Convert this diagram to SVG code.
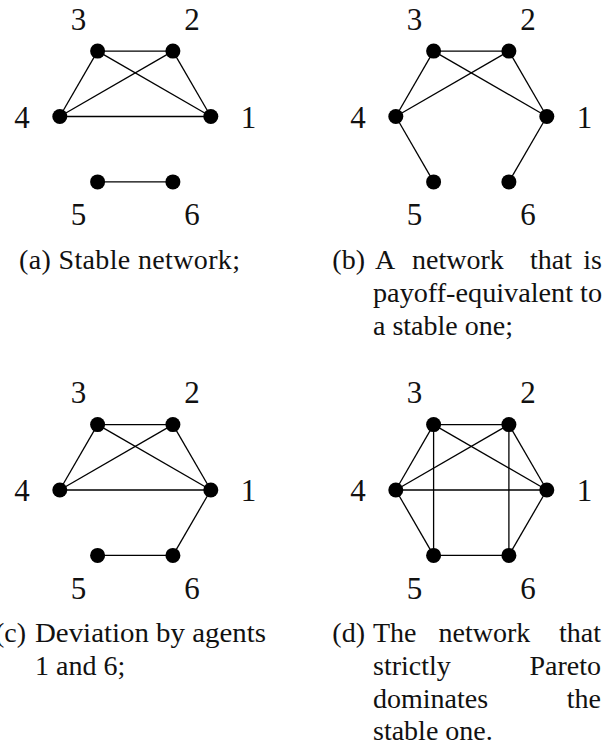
<svg xmlns="http://www.w3.org/2000/svg" width="605" height="746" viewBox="0 0 605 746">
<style>
.e{stroke:#000;stroke-width:1.3;fill:none}
.dot{fill:#000}
.lb{font-family:'Liberation Serif','DejaVu Serif','Noto Serif',serif;font-size:31px;fill:#111;text-anchor:middle}
.cap{font-family:'Liberation Serif','DejaVu Serif','Noto Serif',serif;font-size:28px;fill:#111}
.m{text-anchor:middle}
.r{text-anchor:end}
</style>
<rect width="605" height="746" fill="#fff"/>

<!-- Panel (a) -->
<g id="conn-a">
<line class="e" x1="97.6" y1="51.1" x2="172.9" y2="51.1"/>
<line class="e" x1="97.6" y1="51.1" x2="59.8" y2="116.5"/>
<line class="e" x1="97.6" y1="51.1" x2="210.8" y2="116.5"/>
<line class="e" x1="172.9" y1="51.1" x2="59.8" y2="116.5"/>
<line class="e" x1="172.9" y1="51.1" x2="210.8" y2="116.5"/>
<line class="e" x1="59.8" y1="116.5" x2="210.8" y2="116.5"/>
<line class="e" x1="97.6" y1="181.9" x2="172.9" y2="181.9"/>
</g>
<g id="a1"><circle class="dot" cx="210.8" cy="116.5" r="7.5"/><text class="lb" x="248.5" y="127.5">1</text></g>
<g id="a2"><circle class="dot" cx="172.9" cy="51.1" r="7.5"/><text class="lb" x="192" y="29.5">2</text></g>
<g id="a3"><circle class="dot" cx="97.6" cy="51.1" r="7.5"/><text class="lb" x="78.5" y="29.5">3</text></g>
<g id="a4"><circle class="dot" cx="59.8" cy="116.5" r="7.5"/><text class="lb" x="22" y="127.5">4</text></g>
<g id="a5"><circle class="dot" cx="97.6" cy="181.9" r="7.5"/><text class="lb" x="78.5" y="225">5</text></g>
<g id="a6"><circle class="dot" cx="172.9" cy="181.9" r="7.5"/><text class="lb" x="192" y="225">6</text></g>
<g id="cap-a"><text class="cap" x="19" y="269" textLength="221" lengthAdjust="spacing">(a) Stable network;</text></g>

<!-- Panel (b) -->
<g id="conn-b">
<line class="e" x1="433.6" y1="51.1" x2="508.9" y2="51.1"/>
<line class="e" x1="433.6" y1="51.1" x2="395.8" y2="116.5"/>
<line class="e" x1="433.6" y1="51.1" x2="546.8" y2="116.5"/>
<line class="e" x1="508.9" y1="51.1" x2="395.8" y2="116.5"/>
<line class="e" x1="508.9" y1="51.1" x2="546.8" y2="116.5"/>
<line class="e" x1="395.8" y1="116.5" x2="433.6" y2="181.9"/>
<line class="e" x1="546.8" y1="116.5" x2="508.9" y2="181.9"/>
</g>
<g id="b1"><circle class="dot" cx="546.8" cy="116.5" r="7.5"/><text class="lb" x="584.5" y="127.5">1</text></g>
<g id="b2"><circle class="dot" cx="508.9" cy="51.1" r="7.5"/><text class="lb" x="528" y="29.5">2</text></g>
<g id="b3"><circle class="dot" cx="433.6" cy="51.1" r="7.5"/><text class="lb" x="414.5" y="29.5">3</text></g>
<g id="b4"><circle class="dot" cx="395.8" cy="116.5" r="7.5"/><text class="lb" x="358" y="127.5">4</text></g>
<g id="b5"><circle class="dot" cx="433.6" cy="181.9" r="7.5"/><text class="lb" x="414.5" y="225">5</text></g>
<g id="b6"><circle class="dot" cx="508.9" cy="181.9" r="7.5"/><text class="lb" x="528" y="225">6</text></g>
<g id="cap-b">
<text class="cap r" x="365" y="269">(b)</text>
<text class="cap" x="375" y="269">A</text>
<text class="cap m" x="458" y="269">network</text>
<text class="cap m" x="551" y="269">that</text>
<text class="cap r" x="602" y="269">is</text>
<text class="cap" x="373" y="302" textLength="229" lengthAdjust="spacingAndGlyphs">payoff-equivalent to</text>
<text class="cap" x="373" y="335">a stable one;</text>
</g>

<!-- Panel (c) -->
<g id="conn-c">
<line class="e" x1="97.6" y1="424.6" x2="172.9" y2="424.6"/>
<line class="e" x1="97.6" y1="424.6" x2="59.8" y2="490"/>
<line class="e" x1="97.6" y1="424.6" x2="210.8" y2="490"/>
<line class="e" x1="172.9" y1="424.6" x2="59.8" y2="490"/>
<line class="e" x1="172.9" y1="424.6" x2="210.8" y2="490"/>
<line class="e" x1="59.8" y1="490" x2="210.8" y2="490"/>
<line class="e" x1="97.6" y1="555.4" x2="172.9" y2="555.4"/>
<line class="e" x1="210.8" y1="490" x2="172.9" y2="555.4"/>
</g>
<g id="c1"><circle class="dot" cx="210.8" cy="490" r="7.5"/><text class="lb" x="248.5" y="501">1</text></g>
<g id="c2"><circle class="dot" cx="172.9" cy="424.6" r="7.5"/><text class="lb" x="192" y="403">2</text></g>
<g id="c3"><circle class="dot" cx="97.6" cy="424.6" r="7.5"/><text class="lb" x="78.5" y="403">3</text></g>
<g id="c4"><circle class="dot" cx="59.8" cy="490" r="7.5"/><text class="lb" x="22" y="501">4</text></g>
<g id="c5"><circle class="dot" cx="97.6" cy="555.4" r="7.5"/><text class="lb" x="78.5" y="598.5">5</text></g>
<g id="c6"><circle class="dot" cx="172.9" cy="555.4" r="7.5"/><text class="lb" x="192" y="598.5">6</text></g>
<g id="cap-c">
<text class="cap r" x="26" y="642">(c)</text>
<text class="cap" x="35" y="642" textLength="231" lengthAdjust="spacingAndGlyphs">Deviation by agents</text>
<text class="cap" x="35" y="675">1 and 6;</text>
</g>

<!-- Panel (d) -->
<g id="conn-d">
<line class="e" x1="433.6" y1="424.6" x2="508.9" y2="424.6"/>
<line class="e" x1="433.6" y1="424.6" x2="395.8" y2="490"/>
<line class="e" x1="433.6" y1="424.6" x2="546.8" y2="490"/>
<line class="e" x1="433.6" y1="424.6" x2="433.6" y2="555.4"/>
<line class="e" x1="508.9" y1="424.6" x2="395.8" y2="490"/>
<line class="e" x1="508.9" y1="424.6" x2="546.8" y2="490"/>
<line class="e" x1="508.9" y1="424.6" x2="508.9" y2="555.4"/>
<line class="e" x1="395.8" y1="490" x2="546.8" y2="490"/>
<line class="e" x1="395.8" y1="490" x2="433.6" y2="555.4"/>
<line class="e" x1="546.8" y1="490" x2="508.9" y2="555.4"/>
<line class="e" x1="433.6" y1="555.4" x2="508.9" y2="555.4"/>
</g>
<g id="d1"><circle class="dot" cx="546.8" cy="490" r="7.5"/><text class="lb" x="584.5" y="501">1</text></g>
<g id="d2"><circle class="dot" cx="508.9" cy="424.6" r="7.5"/><text class="lb" x="528" y="403">2</text></g>
<g id="d3"><circle class="dot" cx="433.6" cy="424.6" r="7.5"/><text class="lb" x="414.5" y="403">3</text></g>
<g id="d4"><circle class="dot" cx="395.8" cy="490" r="7.5"/><text class="lb" x="358" y="501">4</text></g>
<g id="d5"><circle class="dot" cx="433.6" cy="555.4" r="7.5"/><text class="lb" x="414.5" y="598.5">5</text></g>
<g id="d6"><circle class="dot" cx="508.9" cy="555.4" r="7.5"/><text class="lb" x="528" y="598.5">6</text></g>
<g id="cap-d">
<text class="cap r" x="365" y="642">(d)</text>
<text class="cap" x="373" y="642">The</text>
<text class="cap m" x="484.5" y="642">network</text>
<text class="cap r" x="601" y="642">that</text>
<text class="cap" x="373" y="675">strictly</text>
<text class="cap r" x="601" y="675">Pareto</text>
<text class="cap" x="373" y="707.5">dominates</text>
<text class="cap r" x="601" y="707.5">the</text>
<text class="cap" x="373" y="740">stable one.</text>
</g>
</svg>
